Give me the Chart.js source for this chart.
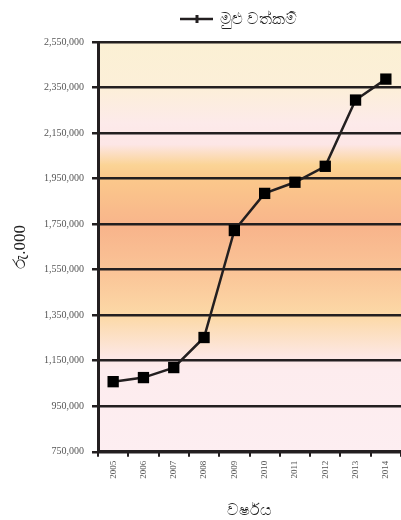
<!DOCTYPE html>
<html>
<head>
<meta charset="utf-8">
<script src="https://cdn.jsdelivr.net/npm/chart.js@4.4.1/dist/chart.umd.min.js"></script>
<style>
  html, body { margin: 0; padding: 0; background: #fff; overflow: hidden; }
  #wrap { width: 401px; height: 520px; position: relative; }
  canvas { display: block; }
</style>
</head>
<body>
<div id="wrap"><canvas id="assets-chart"></canvas></div>
<script>
const years = ['2005', '2006', '2007', '2008', '2009', '2010', '2011', '2012', '2013', '2014'];
const totalAssets = [1058000, 1076000, 1120000, 1252000, 1722000, 1885000, 1934000, 2004000, 2295000, 2387000];
const seriesLabel = 'මුළු වත්කම්';
const yTitle = 'රු.000';
const xTitle = 'වර්ෂය';
const yMin = 750000;
const yMax = 2550000;
const yStep = 200000;

const ink = '#231f20';

// banded background behind the plot
const bgPlugin = {
    id: 'bgBands',
    beforeDraw(chart) {
        const { ctx, chartArea: a } = chart;
        const g = ctx.createLinearGradient(0, a.top, 0, a.bottom);
        g.addColorStop(0, '#fbf0d4');
        g.addColorStop(0.11, '#fcefd8');
        g.addColorStop(0.2, '#fdeaea');
        g.addColorStop(0.25, '#fde6e6');
        g.addColorStop(0.3, '#fbd496');
        g.addColorStop(0.33, '#fbc98b');
        g.addColorStop(0.45, '#f8b48b');
        g.addColorStop(0.56, '#fac497');
        g.addColorStop(0.67, '#fcd9a7');
        g.addColorStop(0.77, '#fde8e6');
        g.addColorStop(0.8, '#fdecee');
        g.addColorStop(1, '#fdeef1');
        ctx.save();
        ctx.fillStyle = g;
        ctx.fillRect(a.left, a.top, a.right - a.left, a.bottom - a.top);
        ctx.restore();
    }
};

// legend drawn a bit right of centre, like the original
const legendPlugin = {
    id: 'offsetLegend',
    afterDraw(chart) {
        const ctx = chart.ctx;
        const y = 19;
        ctx.save();
        ctx.strokeStyle = ink;
        ctx.lineWidth = 2.5;
        ctx.beginPath();
        ctx.moveTo(180, y);
        ctx.lineTo(213, y);
        ctx.stroke();
        ctx.lineWidth = 3;
        ctx.beginPath();
        ctx.moveTo(197, y - 4);
        ctx.lineTo(197, y + 4);
        ctx.stroke();
        ctx.fillStyle = '#222';
        ctx.font = '16px "Noto Sans", sans-serif';
        ctx.textBaseline = 'middle';
        ctx.fillText(chart.data.datasets[0].label, 220, y);
        ctx.restore();
    }
};

new Chart(document.getElementById('assets-chart'), {
    type: 'line',
    data: {
        labels: years,
        datasets: [{
            label: seriesLabel,
            data: totalAssets,
            borderColor: ink,
            borderWidth: 2.5,
            pointStyle: 'rect',
            pointRadius: 8,
            pointHoverRadius: 8,
            pointBackgroundColor: '#000',
            pointBorderColor: '#000',
            pointBorderWidth: 0,
            tension: 0,
            clip: false
        }]
    },
    plugins: [bgPlugin, legendPlugin],
    options: {
        responsive: true,
        maintainAspectRatio: false,
        animation: false,
        layout: { autoPadding: false, padding: { top: 42, right: 0, left: 0, bottom: 0 } },
        plugins: {
            legend: { display: false },
            tooltip: { enabled: false }
        },
        scales: {
            x: {
                offset: true,
                grid: {
                    offset: true,
                    drawOnChartArea: false,
                    drawTicks: true,
                    tickLength: 5,
                    color: ink,
                    lineWidth: 2
                },
                border: { color: ink, width: 3 },
                ticks: {
                    minRotation: 90,
                    maxRotation: 90,
                    padding: 4,
                    color: '#555',
                    font: { family: '"Liberation Serif", serif', size: 9 }
                },
                title: {
                    display: true,
                    text: xTitle,
                    color: '#222',
                    padding: { top: 18, bottom: 0 },
                    font: { family: '"Noto Sans", sans-serif', size: 16 }
                }
            },
            y: {
                min: yMin,
                max: yMax,
                afterFit(scale) { scale.width = 98; },
                grid: {
                    color: ink,
                    lineWidth: 2.5,
                    tickLength: 6
                },
                border: { color: ink, width: 3 },
                ticks: {
                    stepSize: yStep,
                    padding: 8,
                    color: '#555',
                    font: { family: '"Liberation Serif", serif', size: 10 },
                    callback: v => v.toLocaleString('en-US')
                },
                title: {
                    display: true,
                    text: yTitle,
                    color: '#222',
                    padding: { top: 10, bottom: 0 },
                    font: { family: '"Liberation Serif", serif', size: 17 }
                }
            }
        }
    }
});
</script>
</body>
</html>
